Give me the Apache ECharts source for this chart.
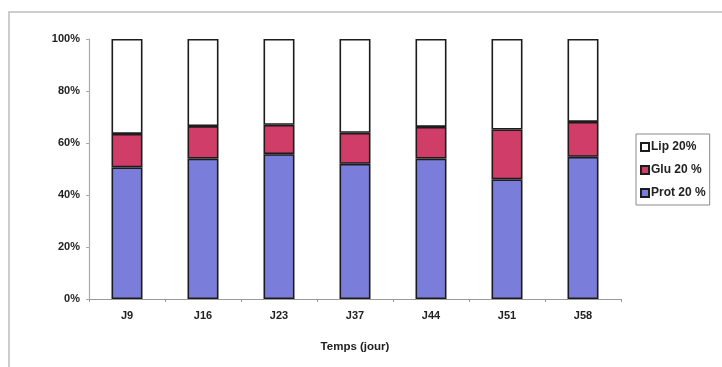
<!DOCTYPE html>
<html><head><meta charset="utf-8">
<script src="https://cdn.jsdelivr.net/npm/echarts@6/dist/echarts.min.js"></script>
<style>html,body{margin:0;padding:0;background:#fff}#c{width:722px;height:367px}</style>
</head><body><div id="c"></div>
<script>
const categories = ['J9','J16','J23','J37','J44','J51','J58'];
const prot = [50.6, 54.0, 55.7, 52.0, 54.0, 46.0, 54.7];
const glu  = [12.9, 12.5, 11.3, 11.9, 12.2, 19.2, 13.4];
const lip  = [36.5, 33.5, 33.0, 36.1, 33.8, 34.8, 31.9];
const yTicks = ['0%','20%','40%','60%','80%','100%'];

const chart = echarts.init(document.getElementById('c'));
const font = 'Arial, "Liberation Sans", sans-serif';
const border = {borderColor:'#1c1c1c', borderWidth:1.6};
chart.setOption({
  animation:false,
  backgroundColor:'#fff',
  graphic:[{type:'rect', shape:{x:9,y:12,width:730,height:370}, style:{fill:'none', stroke:'#bdbdbd', lineWidth:1.5}, silent:true}],
  grid:{left:89, right:101, top:39, bottom:68},
  legend:{
    orient:'vertical', left:636, top:134,
    data:['Lip 20%','Glu 20 %','Prot 20 %'],
    itemWidth:8, itemHeight:8, itemGap:9,
    padding:[6,4,5,4],
    borderColor:'#8a8a8a', borderWidth:1,
    textStyle:{fontFamily:font, fontWeight:'bold', fontSize:12, color:'#222', padding:[0,0,0,-3], lineHeight:14},
    icon:'rect'
  },
  xAxis:{
    type:'category', data:categories,
    name:'Temps (jour)', nameLocation:'middle', nameGap:42,
    nameTextStyle:{fontFamily:font, fontWeight:'bold', fontSize:11.5, color:'#222'},
    axisLine:{lineStyle:{color:'#999', width:1.2}},
    axisTick:{show:true, length:3, lineStyle:{color:'#999'}},
    axisLabel:{fontFamily:font, fontWeight:'bold', fontSize:11, color:'#222', margin:11}
  },
  yAxis:{
    type:'value', min:0, max:100, interval:20,
    axisLine:{show:true, lineStyle:{color:'#aaa', width:1.2}},
    axisTick:{show:true, length:3, lineStyle:{color:'#aaa'}},
    splitLine:{show:false},
    axisLabel:{fontFamily:font, fontWeight:'bold', fontSize:11, color:'#222', margin:9,
      formatter:(v)=>yTicks[Math.round(v/20)]}
  },
  series:[
    {name:'Prot 20 %', type:'bar', stack:'s', data:prot, barWidth:31,
     itemStyle:Object.assign({color:'#7b7ddb'}, border)},
    {name:'Glu 20 %', type:'bar', stack:'s', data:glu, barWidth:31,
     itemStyle:Object.assign({color:'#cf3d68'}, border)},
    {name:'Lip 20%', type:'bar', stack:'s', data:lip, barWidth:31,
     itemStyle:Object.assign({color:'#ffffff'}, border)}
  ]
});
</script></body></html>
